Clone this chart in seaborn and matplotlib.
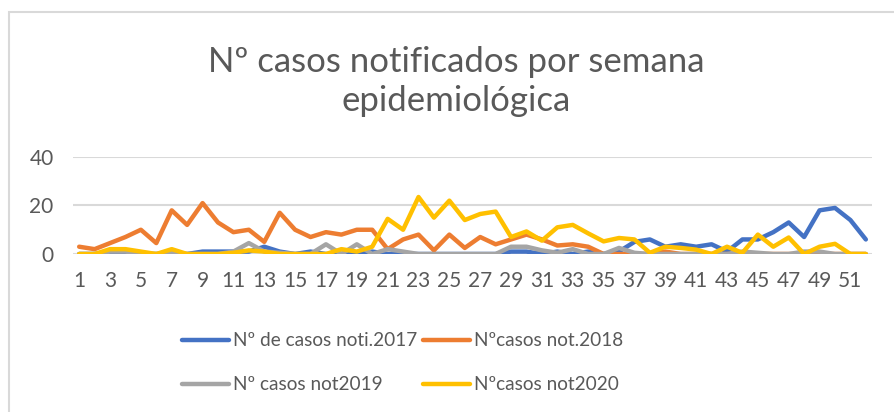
import numpy as np
import pandas as pd
import seaborn as sns
import matplotlib
matplotlib.use("Agg")
import matplotlib.pyplot as plt
from matplotlib.patches import Rectangle

weeks = list(range(1, 53))

casos_2017 = [0, 0, 0, 0, 0, 0, 0, 0, 1, 1, 1, 1, 3, 1, 0, 1, 0, 0, 0, 1,
              0, 0, 0, 0, 0, 0, 0, 0, 1, 1, 0, 1, 0, 1, 0, 1, 5, 6, 3, 4,
              3, 4, 1, 6, 6, 9, 13, 7, 18, 19, 14, 6]
casos_2018 = [3, 2, 4.5, 7, 10, 4.5, 18, 12, 21, 13, 9, 10, 5, 17, 10, 7, 9, 8, 10, 10,
              2, 6, 8, 1.5, 8, 2.5, 7, 4, 6, 8, 6, 3.5, 4, 3, 0, 0, 0, 0, 1, 0,
              0, 0, 0, 0, 0, 0, 0, 0, 0, 0, 0, 0]
casos_2019 = [0, 0, 1, 1, 0, 0, 0.5, 0, 0, 0, 1, 4.5, 1, 0.5, 0, 0, 4, 0, 4, 0,
              2, 1, 0, 0, 0, 0, 0, 0, 3, 3, 1.5, 0.5, 2, 0, 0, 2.5, 0.5, 0, 0, 0,
              0, 0, 0, 1, 0.5, 0, 0, 1, 1, 0, 0, 0]
casos_2020 = [0, 0, 2, 2, 1, 0, 2, 0, 0, 0, 0.5, 1.5, 1, 0, 0, 0, 0, 2, 1, 3,
              14.5, 10, 23.5, 15, 22, 14, 16.5, 17.5, 7, 9.3, 5.5, 11, 12, 8.5, 5.2, 6.6, 6, 0.5, 3, 2.5,
              1.8, 0, 3, 0.5, 8, 3, 6.8, 0, 3, 4.2, 0, 0]

series_names = ["Nº de casos noti.2017", "Nºcasos not.2018",
                "Nº casos not2019", "Nºcasos not2020"]
colors = ["#4472C4", "#ED7D31", "#A5A5A5", "#FFC000"]

df = pd.DataFrame({
    "semana": weeks * 4,
    "casos": casos_2017 + casos_2018 + casos_2019 + casos_2020,
    "serie": np.repeat(series_names, len(weeks)),
})

sns.set_style("white")
plt.rcParams["font.family"] = ["Lato", "DejaVu Sans"]
text_color = "#595959"

fig = plt.figure(figsize=(8.95, 4.12), dpi=100)
ax = fig.add_axes([73 / 895, 1 - 254 / 412, (872 - 73) / 895, (254 - 157) / 412])

sns.lineplot(data=df, x="semana", y="casos", hue="serie", hue_order=series_names,
             palette=colors, linewidth=3.2, ax=ax, legend=False, zorder=3)

ax.set_xlim(0.6, 52.4)
ax.set_ylim(0, 40)
ax.set_yticks([0, 20, 40])
ax.set_xticks(weeks[::2])
ax.set_xticklabels([str(w) for w in weeks[::2]])
ax.grid(axis="y", color="#d9d9d9", linewidth=1.5, zorder=0)
ax.grid(axis="x", visible=False)
for s in ax.spines.values():
    s.set_visible(False)
ax.tick_params(axis="both", length=0, labelsize=15, colors=text_color)
ax.tick_params(axis="x", pad=12)
ax.tick_params(axis="y", pad=14)
ax.set_xlabel("")
ax.set_ylabel("")

fig.text(0.51, 1 - 62 / 412, "Nº casos notificados por semana", ha="center", va="center",
         fontsize=25, color=text_color)
fig.text(0.51, 1 - 101 / 412, "epidemiológica", ha="center", va="center",
         fontsize=25, color=text_color)

# legend built by hand, two rows x two columns
leg_pos = [(182, 340), (423, 340), (182, 384), (423, 384)]
for (lx, ly), name, c in zip(leg_pos, series_names, colors):
    yf = 1 - ly / 412
    fig.add_artist(plt.Line2D([lx / 895, (lx + 47) / 895], [yf, yf], color=c,
                              linewidth=3.2, solid_capstyle="round"))
    fig.text((lx + 51) / 895, yf, name, ha="left", va="center", fontsize=13.7, color=text_color)

fig.add_artist(Rectangle((9 / 895, -0.1), 1.1, 1 - 12 / 412 + 0.1, transform=fig.transFigure,
                         fill=False, edgecolor="#d9d9d9", linewidth=1.5))

fig.savefig("out.png", dpi=100)
